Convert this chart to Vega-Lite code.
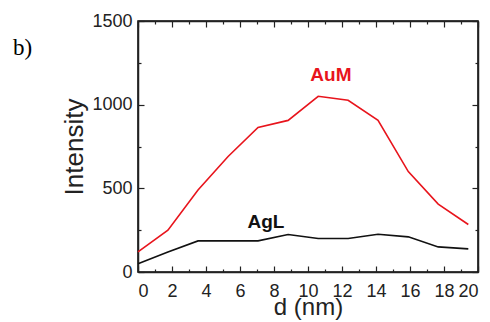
{
  "$schema": "https://vega.github.io/schema/vega-lite/v6.json",
  "width": 340,
  "height": 251,
  "autosize": {"type": "none"},
  "padding": {"left": 138, "top": 21, "right": 12, "bottom": 50},
  "background": "white",
  "title": {"text": "b)", "font": "Liberation Serif", "fontSize": 23, "fontWeight": "normal", "color": "#000", "anchor": "start", "frame": "group", "orient": "top", "offset": 0, "dx": -125, "dy": 66, "baseline": "alphabetic"},
  "config": {
    "view": {"stroke": "#000", "strokeWidth": 1.5},
    "axis": {"grid": false, "labelFont": "Liberation Sans", "titleFont": "Liberation Sans", "labelColor": "#222", "titleColor": "#222", "tickColor": "#222", "domainColor": "#222", "domainWidth": 1.5, "tickWidth": 1.2}
  },
  "datasets": {
    "series": [
      {"d": 0, "intensity": 120, "sample": "AuM"},
      {"d": 1.76, "intensity": 250, "sample": "AuM"},
      {"d": 3.53, "intensity": 490, "sample": "AuM"},
      {"d": 5.3, "intensity": 690, "sample": "AuM"},
      {"d": 7.06, "intensity": 864, "sample": "AuM"},
      {"d": 8.83, "intensity": 906, "sample": "AuM"},
      {"d": 10.6, "intensity": 1050, "sample": "AuM"},
      {"d": 12.36, "intensity": 1026, "sample": "AuM"},
      {"d": 14.12, "intensity": 906, "sample": "AuM"},
      {"d": 15.9, "intensity": 600, "sample": "AuM"},
      {"d": 17.66, "intensity": 406, "sample": "AuM"},
      {"d": 19.43, "intensity": 284, "sample": "AuM"},
      {"d": 0, "intensity": 50, "sample": "AgL"},
      {"d": 1.76, "intensity": 120, "sample": "AgL"},
      {"d": 3.53, "intensity": 186, "sample": "AgL"},
      {"d": 5.3, "intensity": 186, "sample": "AgL"},
      {"d": 7.06, "intensity": 186, "sample": "AgL"},
      {"d": 8.83, "intensity": 224, "sample": "AgL"},
      {"d": 10.6, "intensity": 200, "sample": "AgL"},
      {"d": 12.36, "intensity": 200, "sample": "AgL"},
      {"d": 14.12, "intensity": 226, "sample": "AgL"},
      {"d": 15.9, "intensity": 210, "sample": "AgL"},
      {"d": 17.66, "intensity": 150, "sample": "AgL"},
      {"d": 19.43, "intensity": 138, "sample": "AgL"}
    ],
    "labels": [
      {"d": 11.35, "intensity": 1175, "sample": "AuM"},
      {"d": 7.53, "intensity": 297, "sample": "AgL"}
    ]
  },
  "layer": [
    {
      "data": {"name": "series"},
      "mark": {"type": "line", "strokeWidth": 1.6},
      "encoding": {
        "x": {"field": "d", "type": "quantitative", "scale": {"domain": [0, 20], "nice": false},
          "axis": {"orient": "bottom", "title": "d (nm)", "titleFontSize": 24, "titleFontWeight": "normal", "titlePadding": -5, "labelFontSize": 18, "labelPadding": 16, "format": "d",
            "values": [0,1,2,3,4,5,6,7,8,9,10,11,12,13,14,15,16,17,18,19,20],
            "labelExpr": "datum.value % 2 === 0 ? datum.label : ''",
            "tickSize": {"condition": {"test": "datum.value % 2 === 0", "value": -6}, "value": -3}}},
        "y": {"field": "intensity", "type": "quantitative", "scale": {"domain": [0, 1500], "nice": false},
          "axis": {"orient": "left", "title": "Intensity", "titleFontSize": 26, "titleFontWeight": "normal", "titlePadding": 4, "labelFontSize": 18, "labelPadding": 12, "format": "d",
            "values": [0,250,500,750,1000,1250,1500],
            "labelExpr": "datum.value % 500 === 0 ? datum.label : ''",
            "tickSize": {"condition": {"test": "datum.value % 500 === 0", "value": -6}, "value": -3}}},
        "color": {"field": "sample", "type": "nominal", "scale": {"domain": ["AuM", "AgL"], "range": ["#e8141c", "#111111"]}, "legend": null}
      }
    },
    {
      "data": {"name": "series"},
      "mark": {"type": "line", "opacity": 0},
      "encoding": {
        "x": {"field": "d", "type": "quantitative",
          "axis": {"orient": "top", "title": null, "labels": false,
            "values": [0,1,2,3,4,5,6,7,8,9,10,11,12,13,14,15,16,17,18,19,20],
            "tickSize": {"condition": {"test": "datum.value % 2 === 0", "value": -6}, "value": -3}}},
        "y": {"field": "intensity", "type": "quantitative",
          "axis": {"orient": "right", "title": null, "labels": false,
            "values": [0,250,500,750,1000,1250,1500],
            "tickSize": {"condition": {"test": "datum.value % 500 === 0", "value": -6}, "value": -3}}}
      }
    },
    {
      "data": {"name": "labels"},
      "mark": {"type": "text", "font": "Liberation Sans", "fontSize": 19, "fontWeight": "bold"},
      "encoding": {
        "x": {"field": "d", "type": "quantitative", "axis": null},
        "y": {"field": "intensity", "type": "quantitative", "axis": null},
        "text": {"field": "sample"},
        "color": {"field": "sample", "type": "nominal", "scale": {"domain": ["AuM", "AgL"], "range": ["#e8141c", "#111111"]}, "legend": null}
      }
    }
  ],
  "resolve": {"axis": {"x": "independent", "y": "independent"}, "scale": {"x": "shared", "y": "shared"}}
}
